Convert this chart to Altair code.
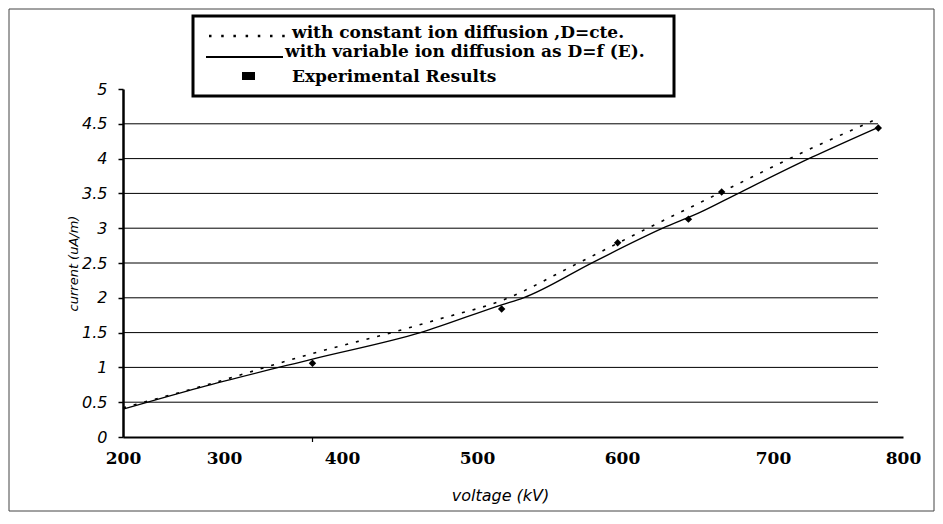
import altair as alt
import pandas as pd

# axis values
x_tick_labels = [200, 300, 400, 500, 600, 700, 800]
y_tick_values = [0, 0.5, 1, 1.5, 2, 2.5, 3, 3.5, 4, 4.5, 5]
y_grid_values = [0.5, 1, 1.5, 2, 2.5, 3, 3.5, 4, 4.5]
x_extra_tick = [375]

# model with constant ion diffusion (D = cte)
const_kv = [200, 276, 375, 448, 473, 517, 569, 617, 651, 666, 723, 780]
const_ua = [0.42, 0.72, 1.20, 1.56, 1.70, 1.96, 2.49, 3.00, 3.36, 3.52, 4.09, 4.57]

# model with variable ion diffusion (D = f(E))
var_kv = [200, 276, 375, 458, 517, 532, 580, 627, 652, 676, 730, 781]
var_ua = [0.40, 0.71, 1.12, 1.50, 1.90, 2.00, 2.51, 3.00, 3.23, 3.49, 4.02, 4.45]

# experimental results
exp_kv = [375, 517, 597, 644, 666, 781]
exp_ua = [1.06, 1.84, 2.79, 3.13, 3.52, 4.44]

legend_labels = [
    "with constant ion diffusion ,D=cte.",
    "with variable ion diffusion as D=f (E).",
    "Experimental Results",
]

W, H = 755, 348

df_const = pd.DataFrame({"kv": const_kv, "ua": const_ua})
df_var = pd.DataFrame({"kv": var_kv, "ua": var_ua})
df_exp = pd.DataFrame({"kv": exp_kv, "ua": exp_ua})
df_tick = pd.DataFrame({"kv": x_extra_tick})
df_grid = pd.DataFrame({"ua": y_grid_values})
dummy = pd.DataFrame({"d": [0]})

x_scale = alt.Scale(domain=x_tick_labels, range=[0, 101, 219, 354, 499, 650, 780],
                    zero=False, nice=False)
y_scale = alt.Scale(domain=[0, 5], nice=False, zero=True)

x_axis = alt.Axis(
    values=x_tick_labels, title="voltage (kV)", grid=False, ticks=False, tickSize=0,
    labelFont="DejaVu Serif", labelFontWeight="bold", labelFontSize=17, labelColor="black",
    labelPadding=13, labelFlush=False, labelOverlap=False, format="d",
    domainColor="black", domainWidth=2,
    titleFont="DejaVu Sans", titleFontStyle="italic", titleFontWeight="normal",
    titleFontSize=16, titleColor="black", titleX=377, titleY=58, titleBaseline="middle",
    titleAlign="center",
)
y_axis = alt.Axis(
    values=y_tick_values, title="current (uA/m)", format="~g", tickCount=11,
    grid=False,
    ticks=True, tickSize=5, tickColor="black", tickWidth=1.5,
    domainColor="black", domainWidth=2.5,
    labelFont="DejaVu Sans", labelFontStyle="italic", labelFontSize=16, labelColor="black",
    labelPadding=11, labelOverlap=False,
    titleFont="DejaVu Sans", titleFontStyle="italic", titleFontWeight="normal",
    titleFontSize=13, titleColor="black", titleX=-50, titleY=H / 2, titleAngle=270,
    titleBaseline="middle", titleAlign="center",
)

X = alt.X("kv:Q", scale=x_scale, axis=x_axis)
Y = alt.Y("ua:Q", scale=y_scale, axis=y_axis)

grid = alt.Chart(df_grid).mark_rule(color="black", strokeWidth=1).encode(
    x=alt.value(0), x2=alt.value(W), y=Y
)
const_line = alt.Chart(df_const).mark_line(
    color="black", strokeWidth=1.6, strokeDash=[3, 8], interpolate="monotone"
).encode(x=X, y=Y)
var_line = alt.Chart(df_var).mark_line(
    color="black", strokeWidth=1.3, interpolate="monotone"
).encode(x=X, y=Y)
exp_pts = alt.Chart(df_exp).mark_point(
    shape="diamond", filled=True, color="black", size=55, opacity=1
).encode(x=X, y=Y)

extra_tick = alt.Chart(df_tick).mark_rule(color="black", strokeWidth=1.2).encode(
    x=X, y=alt.value(H), y2=alt.value(H + 5)
)

# legend (drawn by hand, as in the original)
leg_box = alt.Chart(dummy).mark_rect(fill="white", stroke="black", strokeWidth=3).encode(
    x=alt.value(70), x2=alt.value(551), y=alt.value(-73), y2=alt.value(7)
)
leg_dots = alt.Chart(dummy).mark_rule(color="black", strokeWidth=2.5, strokeDash=[2.5, 9.7]).encode(
    x=alt.value(86), x2=alt.value(162), y=alt.value(-53)
)
leg_solid = alt.Chart(dummy).mark_rule(color="black", strokeWidth=2).encode(
    x=alt.value(83), x2=alt.value(160), y=alt.value(-32)
)
leg_square = alt.Chart(dummy).mark_rect(color="black").encode(
    x=alt.value(119), x2=alt.value(132), y=alt.value(-17), y2=alt.value(-9)
)
text_style = dict(font="DejaVu Serif", fontWeight="bold", fontSize=17, align="left",
                  baseline="alphabetic", color="black")
leg_t1 = alt.Chart(dummy).mark_text(**text_style).encode(
    x=alt.value(169), y=alt.value(-51), text=alt.value(legend_labels[0]))
leg_t2 = alt.Chart(dummy).mark_text(**text_style).encode(
    x=alt.value(162), y=alt.value(-32), text=alt.value(legend_labels[1]))
leg_t3 = alt.Chart(dummy).mark_text(**text_style).encode(
    x=alt.value(169), y=alt.value(-7), text=alt.value(legend_labels[2]))

outer = alt.Chart(dummy).mark_rect(fillOpacity=0, stroke="#444444", strokeWidth=1).encode(
    x=alt.value(-114), x2=alt.value(811), y=alt.value(-80), y2=alt.value(422)
)

chart = alt.layer(
    grid, const_line, var_line, exp_pts, extra_tick,
    leg_box, leg_dots, leg_solid, leg_square, leg_t1, leg_t2, leg_t3, outer,
).properties(
    width=W, height=H,
    autosize=alt.AutoSizeParams(type="none"),
    padding={"left": 115, "top": 81, "right": 57, "bottom": 75},
    background="white",
).configure_view(strokeWidth=0)

chart.save("out.html", embed_options={"renderer": "svg", "actions": False})
